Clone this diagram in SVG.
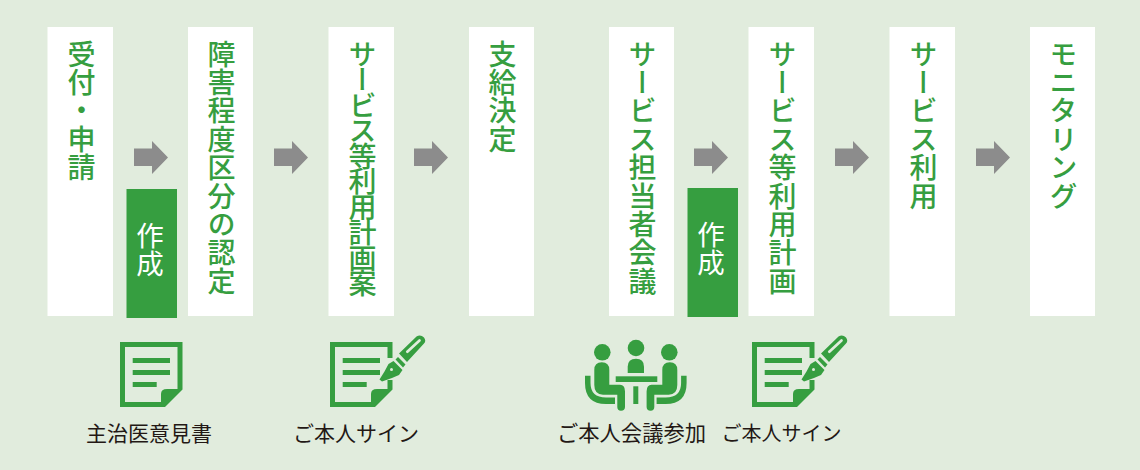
<svg xmlns="http://www.w3.org/2000/svg" xmlns:xlink="http://www.w3.org/1999/xlink" width="1140" height="470" viewBox="0 0 1140 470">
<style>
.box{fill:#fff}
.gbox{fill:#369e40}
.v{writing-mode:vertical-rl;font-family:"Noto Sans CJK JP","Noto Sans",sans-serif;font-size:28px;font-weight:500;fill:#369e40;letter-spacing:.4px}
.w{writing-mode:vertical-rl;font-family:"Noto Sans CJK JP","Noto Sans",sans-serif;font-size:27.500px;fill:#fff;letter-spacing:0}
.l{font-family:"Noto Sans CJK JP","Noto Sans",sans-serif;font-size:21px;font-weight:400;fill:#231815;text-anchor:middle}
.ic{fill:#369e40}
</style>
<defs>
<polygon id="arrow" points="0,7.500 18,7.500 18,0 34,16.500 18,33 18,25 0,25" fill="#8c8c8c"/>
<g id="doc">
<path class="ic" fill-rule="evenodd" d="M0 0H62.500V47.500L45 65H0ZM5 5V60H41V52Q41 47 47 47H57.500V5Z"/>
<rect class="ic" x="12.700" y="16" width="37.300" height="5"/>
<rect class="ic" x="12.700" y="28" width="37.300" height="5"/>
<rect class="ic" x="12.700" y="40" width="24" height="5"/>
</g>
<g id="pen">
<rect x="56" y="16" width="8" height="22" fill="#e1ecdd"/>
<path class="ic" d="M49.500 37.500L54.500 29.500L58.500 22L63.500 19L72.500 28L69 33L62 36L52 39.500Z"/>
<circle cx="61.500" cy="27.500" r="1.500" fill="#e1ecdd"/>
<path class="ic" d="M65.500 17.500L68 15L75.500 22.600L73 25.500Z"/>
<path class="ic" d="M69 11.500L86.500 -5.500Q90.500 -8 94 -4.500Q96.500 -1 94 1.500L77 20Z"/>
<path d="M77.300 9.700L89.500 -1.500" stroke="#e1ecdd" stroke-width="2.700" stroke-linecap="round" fill="none"/>
</g>
<g id="sitter">
<circle class="ic" cx="602.300" cy="352.300" r="8.300"/>
<path class="ic" d="M594.300 370Q594.300 362.300 601.800 362.300Q609.300 362.300 609.300 370V384.700H620Q625 384.700 625 391.300V407Q625 410.700 621 410.700Q617.300 410.700 617.300 407V394.700H603Q594.300 394.700 594.300 385Z"/>
<path class="ic" d="M585 375.700H590.500V383Q590.500 397.500 606 397.500H615V404H606Q585 404 585 383Z"/>
</g>
</defs>
<rect width="1140" height="470" fill="#e1ecdd"/>
<g id="connectors">
<use xlink:href="#arrow" href="#arrow" x="134" y="141"/>
<use xlink:href="#arrow" href="#arrow" x="274" y="141"/>
<use xlink:href="#arrow" href="#arrow" x="414" y="141"/>
<use xlink:href="#arrow" href="#arrow" x="694" y="141"/>
<use xlink:href="#arrow" href="#arrow" x="835" y="141"/>
<use xlink:href="#arrow" href="#arrow" x="976" y="141"/>
</g>
<g id="n1"><rect class="box" x="47.500" y="27" width="65.500" height="289"/><text class="v" x="81.500" y="40">受付・申請</text></g>
<g id="n2"><rect class="box" x="188" y="27" width="65" height="289"/><text class="v" x="221.500" y="40">障害程度区分の認定</text></g>
<g id="n3"><rect class="box" x="328.500" y="27" width="65.500" height="289"/><text class="v" x="362.500" y="40" style="letter-spacing:-2.500px">サービス等利用計画案</text></g>
<g id="n4"><rect class="box" x="469" y="27" width="65" height="289"/><text class="v" x="502.500" y="40">支給決定</text></g>
<g id="n5"><rect class="box" x="609" y="27" width="65" height="289"/><text class="v" x="642.500" y="40">サービス担当者会議</text></g>
<g id="n6"><rect class="box" x="748.500" y="27" width="65.500" height="289"/><text class="v" x="782.500" y="40">サービス等利用計画</text></g>
<g id="n7"><rect class="box" x="889.500" y="27" width="65.500" height="289"/><text class="v" x="923.500" y="40">サービス利用</text></g>
<g id="n8"><rect class="box" x="1030" y="27" width="65" height="289"/><text class="v" x="1063.500" y="40">モニタリング</text></g>
<g id="make1"><rect class="gbox" x="126.500" y="189" width="50.500" height="129"/><text class="w" x="150" y="222">作成</text></g>
<g id="make2"><rect class="gbox" x="687.500" y="188" width="50.500" height="129"/><text class="w" x="711" y="221">作成</text></g>
<g id="doc1"><use xlink:href="#doc" href="#doc" x="120" y="342"/><text class="l" x="149" y="441">主治医意見書</text></g>
<g id="sign1"><use xlink:href="#doc" href="#doc" x="330" y="342"/><use xlink:href="#pen" href="#pen" x="330" y="342"/><text class="l" x="356" y="441">ご本人サイン</text></g>
<g id="meeting">
<use xlink:href="#sitter" href="#sitter"/>
<use xlink:href="#sitter" href="#sitter" transform="matrix(-1 0 0 1 1271.600 0)"/>
<circle class="ic" cx="636" cy="348" r="8.300"/>
<path class="ic" d="M627.700 373V366.700Q627.700 358.700 636 358.700Q644 358.700 644 366.700V373Z"/>
<rect class="ic" x="615.700" y="376.300" width="41.600" height="5.700"/>
<rect class="ic" x="633.300" y="386.300" width="5" height="17.700"/>
<text class="l" x="631.500" y="441" style="font-size:21.300px">ご本人会議参加</text>
</g>
<g id="sign2"><use xlink:href="#doc" href="#doc" x="752" y="342"/><use xlink:href="#pen" href="#pen" x="752" y="342"/><text class="l" x="781.500" y="441" style="font-size:20px">ご本人サイン</text></g>
</svg>
